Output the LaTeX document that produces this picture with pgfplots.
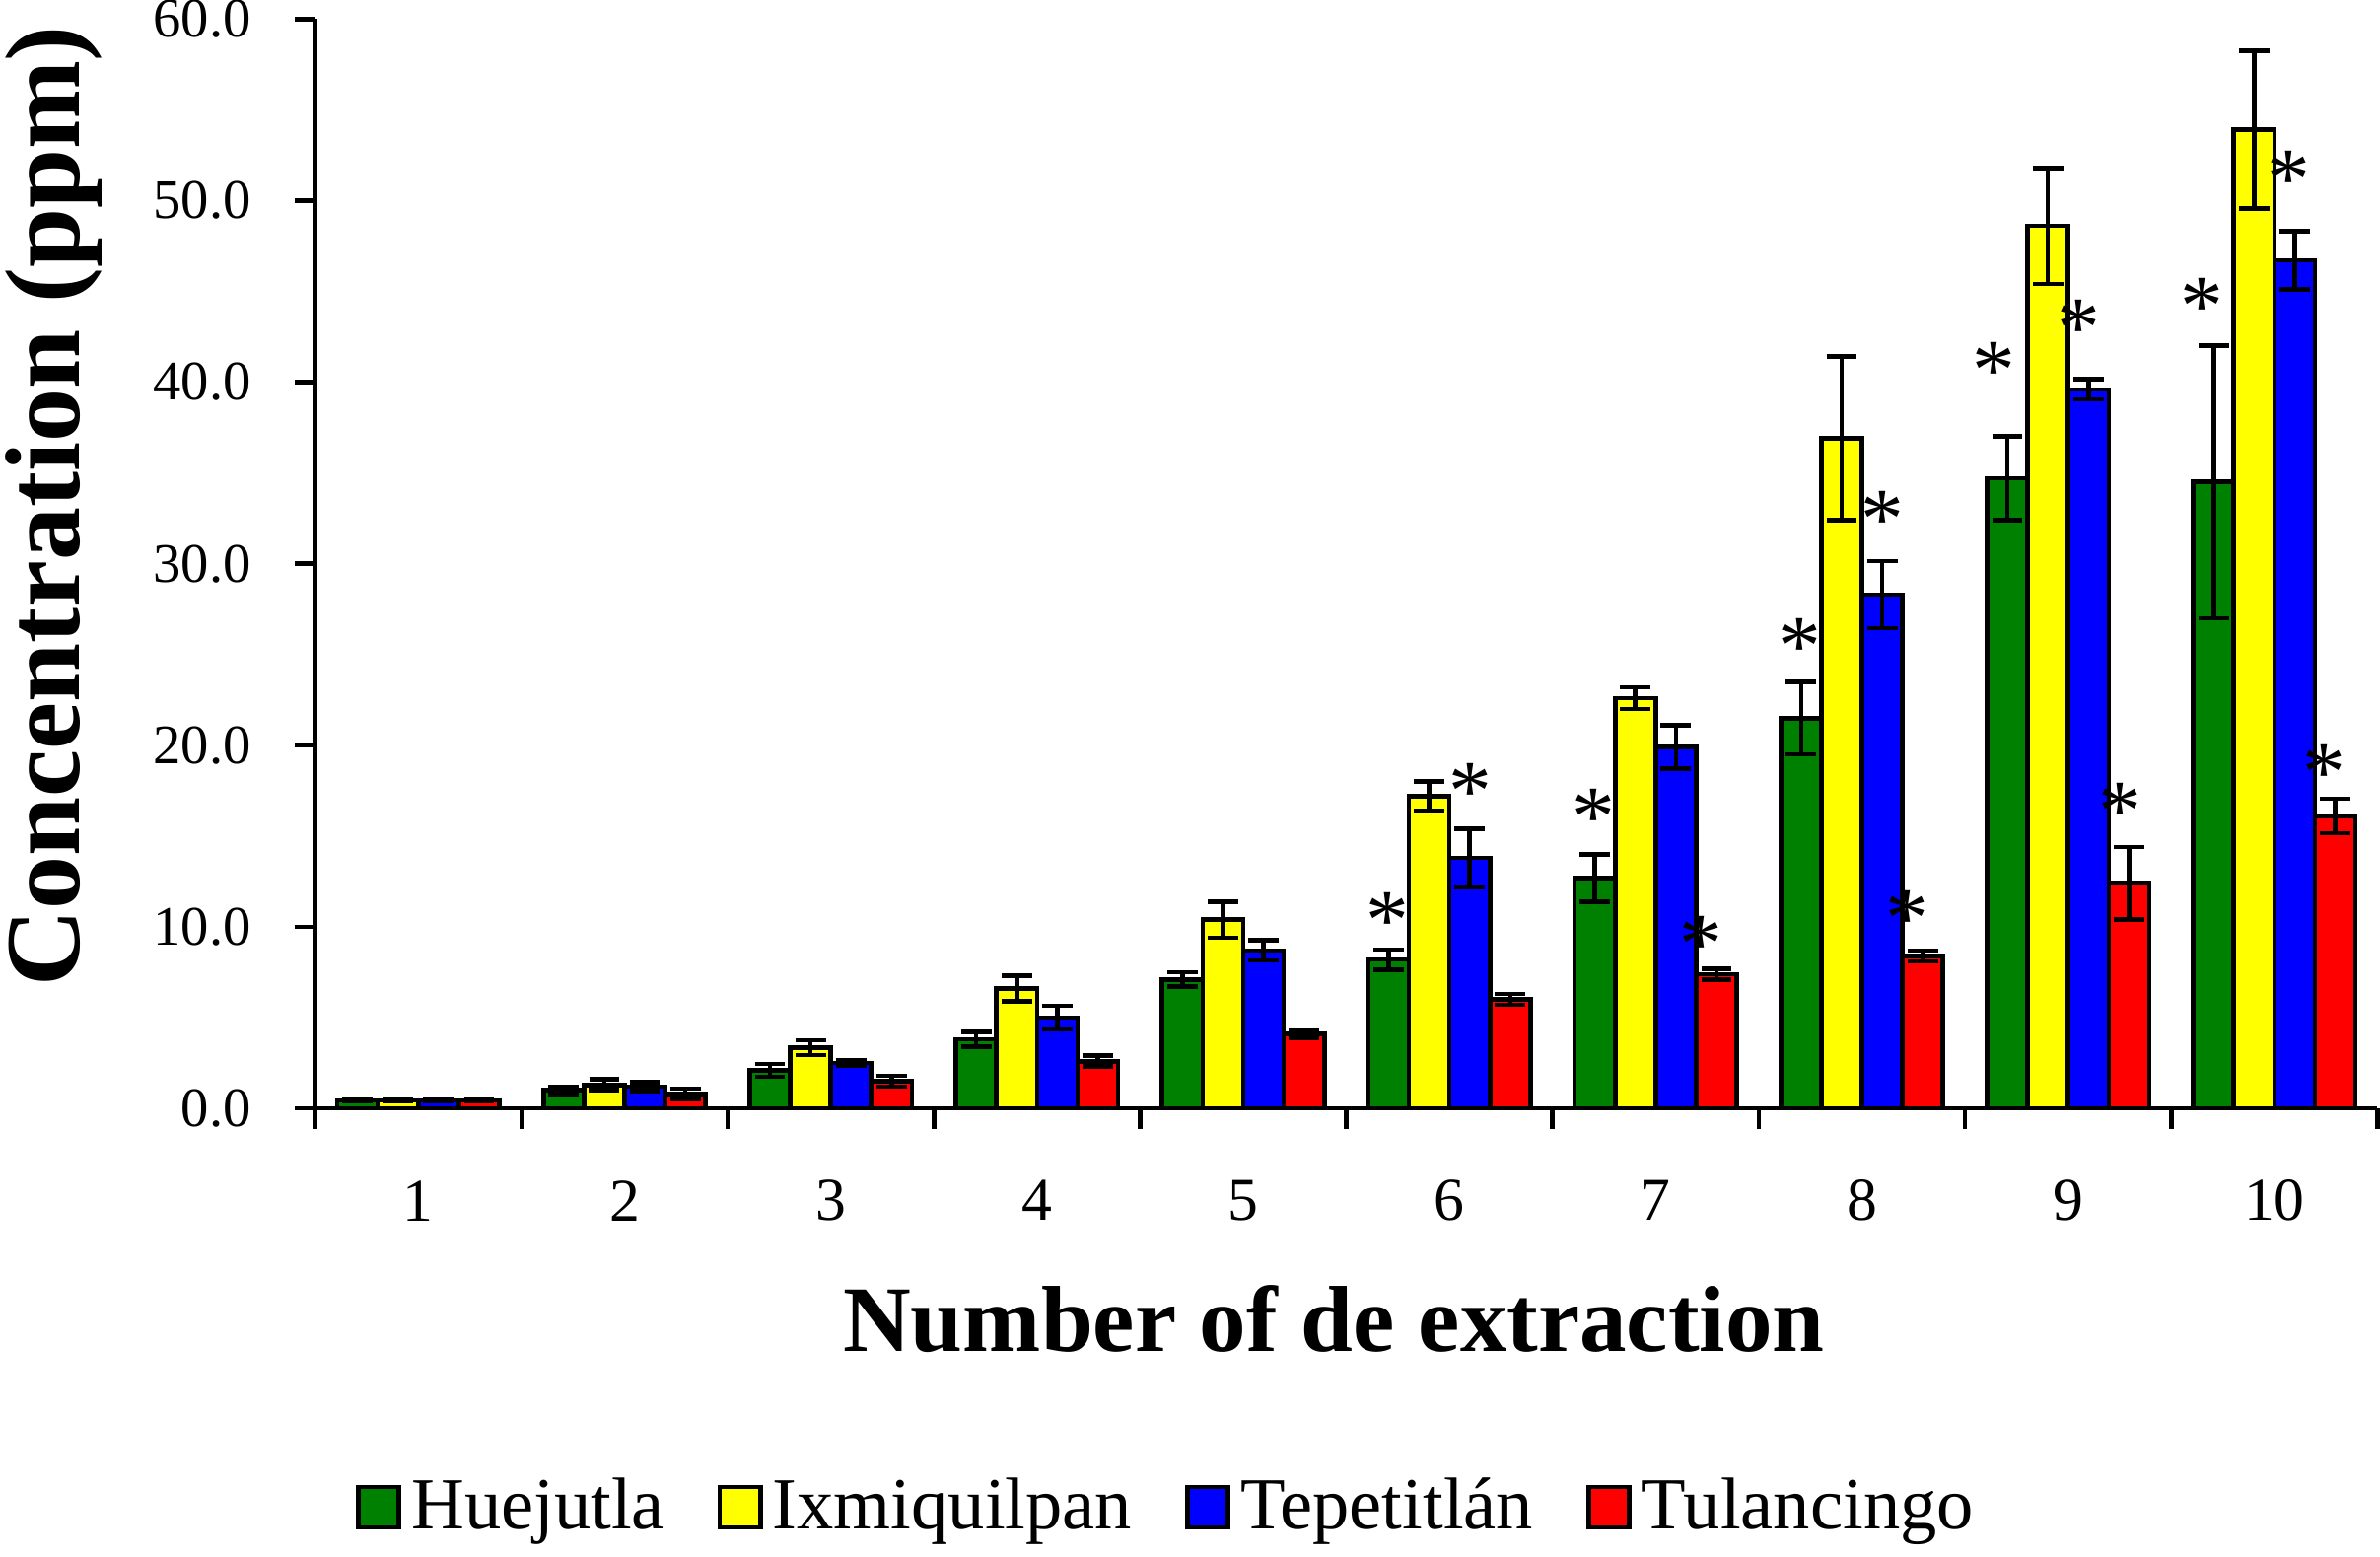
\documentclass[border=0pt]{standalone}
\usepackage{pgfplots}
\pgfplotsset{compat=1.18}
\usepackage{fontspec}
\setmainfont{Liberation Serif}

\definecolor{cHue}{HTML}{008000}
\definecolor{cIxm}{HTML}{FFFF00}
\definecolor{cTep}{HTML}{0000FF}
\definecolor{cTul}{HTML}{FF0000}

% one category = 40.7pt; #1 fill colour, #2 offset of the bar
\pgfplotsset{
  mybar/.style 2 args={
    ybar, bar width=8pt, bar shift=#2, fill=#1, draw=black, line width=0.9pt,
    error bars/y dir=both, error bars/y explicit,
    error bars/error bar style={line width=0.9pt, black, xshift=#2},
    error bars/error mark options={rotate=90, mark size=3pt, line width=0.9pt, black},
  },
  star/.style={
    only marks, mark=none, forget plot,
    nodes near coords={\fontsize{17}{17}\selectfont *},
    nodes near coords style={anchor=center, yshift=-3.4pt, inner sep=0pt},
  },
}

\begin{document}
\begin{tikzpicture}
  \begin{axis}[
      width=407pt, height=215pt, scale only axis,
      xmin=0.5, xmax=10.5,
      ymin=0, ymax=60,
      axis lines*=left,
      axis line style={line width=0.9pt},
      clip=false,
      tick align=outside,
      major tick length=4pt,
      tick style={line width=0.9pt, black},
      xtick={0.5,1.5,...,10.5},
      xticklabels={},
      extra x ticks={1,2,...,10},
      extra x tick style={major tick length=0pt},
      xticklabel style={anchor=center, inner sep=0pt, yshift=-18.2pt,
        font=\fontsize{12}{14}\selectfont},
      ytick={0,10,...,60},
      yticklabel={\pgfmathprintnumber[fixed,fixed zerofill,precision=1]{\tick}},
      yticklabel style={anchor=east, inner sep=0pt, xshift=-8.5pt,
        font=\fontsize{11}{12}\selectfont},
      /pgf/number format/assume math mode=true,
      xlabel={Number of de extraction},
      xlabel style={at={(axis description cs:0.494,0)}, anchor=center,
        yshift=-41.5pt, font=\bfseries\fontsize{18.5}{20}\selectfont},
      ylabel={Concentration (ppm)},
      ylabel style={at={(axis description cs:-0.127,0.553)}, anchor=center,
        inner sep=1pt, font=\bfseries\fontsize{21}{22}\selectfont},
      legend style={at={(axis description cs:0.012,-0.366)}, anchor=west,
        draw=none, fill=none, legend columns=-1,
        font=\fontsize{14.5}{16}\selectfont,
        /tikz/every even column/.append style={column sep=8.5pt}},
      legend image code/.code={%
        \draw[#1,/tikz/.cd,line width=0.9pt] (0pt,-4pt) rectangle (8pt,4pt);},
    ]

    \addplot[mybar={cHue}{-12pt}] coordinates {
      (1,0.45) +- (0,0.05) (2,1.0) +- (0,0.2) (3,2.1) +- (0,0.35)
      (4,3.8) +- (0,0.4) (5,7.1) +- (0,0.4) (6,8.2) +- (0,0.55)
      (7,12.7) +- (0,1.3) (8,21.5) +- (0,2.0) (9,34.7) +- (0,2.3)
      (10,34.5) +- (0,7.5)
    };
    \addlegendentry{Huejutla}

    \addplot[mybar={cIxm}{-4pt}] coordinates {
      (1,0.45) +- (0,0.05) (2,1.3) +- (0,0.3) (3,3.35) +- (0,0.4)
      (4,6.6) +- (0,0.7) (5,10.4) +- (0,1.0) (6,17.2) +- (0,0.8)
      (7,22.6) +- (0,0.6) (8,36.9) +- (0,4.5) (9,48.6) +- (0,3.2)
      (10,53.9) +- (0,4.35)
    };
    \addlegendentry{Ixmiquilpan}

    \addplot[mybar={cTep}{4pt}] coordinates {
      (1,0.45) +- (0,0.05) (2,1.2) +- (0,0.25) (3,2.5) +- (0,0.15)
      (4,5.0) +- (0,0.65) (5,8.7) +- (0,0.55) (6,13.8) +- (0,1.6)
      (7,19.9) +- (0,1.2) (8,28.3) +- (0,1.85) (9,39.6) +- (0,0.55)
      (10,46.7) +- (0,1.6)
    };
    \addlegendentry{Tepetitlán}

    \addplot[mybar={cTul}{12pt}] coordinates {
      (1,0.45) +- (0,0.05) (2,0.8) +- (0,0.3) (3,1.5) +- (0,0.3)
      (4,2.6) +- (0,0.3) (5,4.1) +- (0,0.2) (6,6.0) +- (0,0.3)
      (7,7.4) +- (0,0.3) (8,8.4) +- (0,0.3) (9,12.4) +- (0,2.0)
      (10,16.1) +- (0,0.95)
    };
    \addlegendentry{Tulancingo}

    % significance marks
    \addplot[star] coordinates {
      (5.7,11.3) (6.7,17.0) (7.7,26.4) (8.64,41.6) (9.65,45.1)
      (6.1,18.4) (8.1,33.4) (9.05,43.9) (10.07,52.1)
      (7.22,10.0) (8.22,11.4) (9.25,17.3) (10.24,19.4)
    };

  \end{axis}
\end{tikzpicture}
\end{document}
